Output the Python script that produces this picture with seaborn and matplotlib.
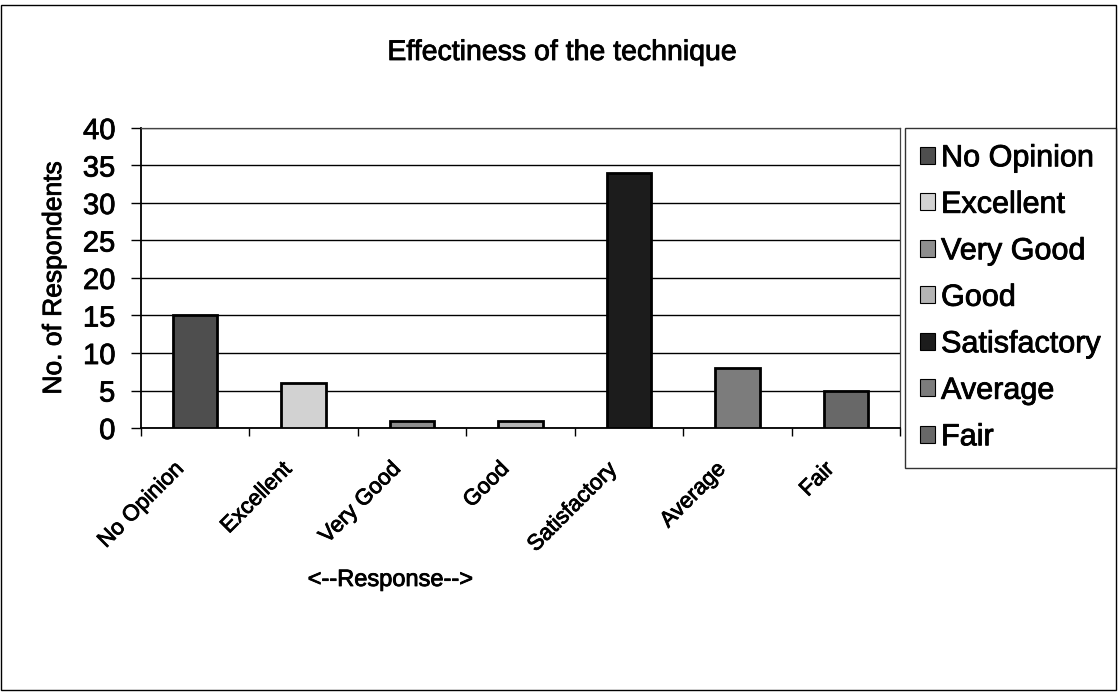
import numpy as np
import pandas as pd
import matplotlib
matplotlib.use("Agg")
import matplotlib.pyplot as plt
import matplotlib.transforms as mtransforms
import matplotlib.patheffects as pe
import seaborn as sns

responses = ["No Opinion", "Excellent", "Very Good", "Good", "Satisfactory", "Average", "Fair"]
respondents = [15, 6, 1, 1, 34, 8, 5]
bar_colors = ["#4e4e4e", "#d2d2d2", "#8e8e8e", "#b4b4b4", "#1c1c1c", "#7c7c7c", "#686868"]
y_ticks = [0, 5, 10, 15, 20, 25, 30, 35, 40]

sns.set_style("white")
plt.rcParams["font.family"] = ["Liberation Sans", "DejaVu Sans"]
plt.rcParams["text.color"] = "black"
plt.rcParams["axes.labelcolor"] = "black"
plt.rcParams["xtick.color"] = "black"
plt.rcParams["ytick.color"] = "black"

# slightly heavier glyph strokes for all text
heavy = [pe.withStroke(linewidth=0.6, foreground="black")]

df = pd.DataFrame({"Response": responses, "Respondents": respondents})

fig = plt.figure(figsize=(11.19, 6.92), dpi=100)
fig.patch.set_facecolor("white")
ax = fig.add_axes([141 / 1119, 1 - 428 / 692, (900 - 141) / 1119, (428 - 128) / 692])

sns.barplot(data=df, x="Response", y="Respondents", hue="Response",
            order=responses, hue_order=responses, palette=bar_colors,
            dodge=False, width=0.41, edgecolor="black", linewidth=2.0,
            legend=True, ax=ax, zorder=3)

ax.set_ylim(0, 40)
ax.set_xlim(-0.5, len(responses) - 0.5)
ax.set_yticks(y_ticks)
ax.set_yticklabels([str(v) for v in y_ticks], fontsize=21)
ax.yaxis.grid(True, color="black", linewidth=1.0, zorder=0)
ax.set_axisbelow(True)

# category labels at centres, tick marks at category boundaries
ax.set_xticks(range(len(responses)))
ax.set_xticklabels(responses, rotation=45, ha="right", rotation_mode="anchor", fontsize=16)
ax.set_xticks(np.arange(-0.5, len(responses), 1.0), minor=True)
ax.tick_params(axis="x", which="major", length=0, pad=22)
ax.tick_params(axis="x", which="minor", length=6, width=1, color="black", direction="out", bottom=True)
ax.tick_params(axis="y", length=7.5, width=1, color="black", direction="out", left=True, pad=11)
shift = mtransforms.ScaledTranslation(-0.22, 0, fig.dpi_scale_trans)
for lbl in ax.get_xticklabels():
    lbl.set_transform(lbl.get_transform() + shift)
    lbl.set_path_effects(heavy)
for lbl in ax.get_yticklabels():
    lbl.set_path_effects(heavy)

for side in ["left", "bottom"]:
    ax.spines[side].set_color("black")
    ax.spines[side].set_linewidth(1.3)
for side in ["top", "right"]:
    ax.spines[side].set_color("#444444")
    ax.spines[side].set_linewidth(0.9)

ax.set_xlabel("")
ax.set_ylabel("No. of Respondents", fontsize=19, color="black", path_effects=heavy)
ax.yaxis.set_label_coords(-(141 - 66) / 759, 0.5)

handles, labels = ax.get_legend_handles_labels()
ax.legend_.remove()
for h in handles:
    h.set_edgecolor("black")
    h.set_linewidth(0.8)
leg = fig.legend(handles, labels, loc="upper left",
                 bbox_to_anchor=(905 / 1119, 1 - 128 / 692),
                 fontsize=22, frameon=True, fancybox=False, edgecolor="black",
                 handlelength=0.48, handleheight=0.48, handletextpad=0.2,
                 labelspacing=0.54, borderpad=0.5, borderaxespad=0)
leg.get_frame().set_linewidth(1.0)
for t in leg.get_texts():
    t.set_path_effects(heavy)

fig.text(562 / 1119, 1 - 60 / 692, "Effectiness of the technique",
         ha="center", va="baseline", fontsize=20.5, path_effects=heavy)
fig.text(390 / 1119, 1 - 580 / 692, "<--Response-->",
         ha="center", va="center", fontsize=17, path_effects=heavy)

# outer chart border
border = plt.Rectangle((1 / 1119, 2 / 692), 1115 / 1119, 685 / 692,
                       transform=fig.transFigure, fill=False,
                       edgecolor="black", linewidth=1.0)
fig.add_artist(border)

fig.savefig("out.png", dpi=100, facecolor="white")
